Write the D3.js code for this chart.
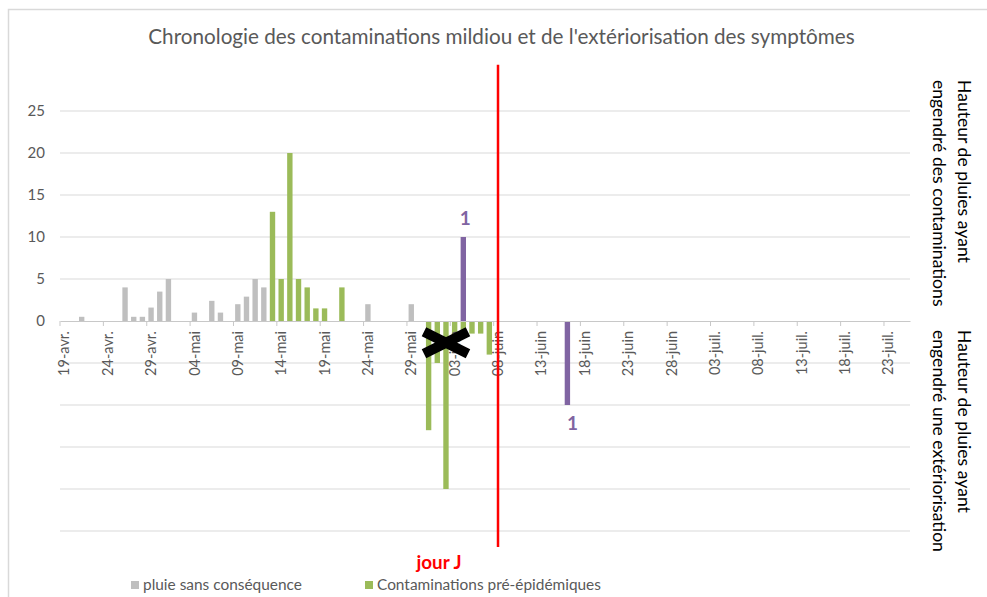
<!DOCTYPE html>
<html>
<head>
<meta charset="utf-8">
<script src="https://cdn.jsdelivr.net/npm/d3@7"></script>
<style>
  html, body { margin: 0; padding: 0; background: #fff; }
  svg { display: block; font-family: Lato, "Open Sans", sans-serif; }
</style>
</head>
<body>
<div id="chart"></div>
<script>
// categories : un jour par barre, du 19 avril au 25 juillet
const firstDay = "2021-04-19"
const lastDay = "2021-07-25"

const tickDates = ["2021-04-19", "2021-04-24", "2021-04-29", "2021-05-04", "2021-05-09",
  "2021-05-14", "2021-05-19", "2021-05-24", "2021-05-29", "2021-06-03", "2021-06-08",
  "2021-06-13", "2021-06-18", "2021-06-23", "2021-06-28", "2021-07-03", "2021-07-08",
  "2021-07-13", "2021-07-18", "2021-07-23"]
const tickLabels = ["19-avr.", "24-avr.", "29-avr.", "04-mai", "09-mai", "14-mai", "19-mai",
  "24-mai", "29-mai", "03-juin", "08-juin", "13-juin", "18-juin", "23-juin", "28-juin",
  "03-juil.", "08-juil.", "13-juil.", "18-juil.", "23-juil."]
const yTickValues = [0, 5, 10, 15, 20, 25]
const gridValues = [-25, -20, -15, -10, -5, 5, 10, 15, 20, 25]

// pluie sans conséquence (gris)
const pluieDates = ["2021-04-21", "2021-04-26", "2021-04-27", "2021-04-28", "2021-04-29",
  "2021-04-30", "2021-05-01", "2021-05-04", "2021-05-06", "2021-05-07", "2021-05-09",
  "2021-05-10", "2021-05-11", "2021-05-12", "2021-05-24", "2021-05-29"]
const pluieValues = [0.5, 4, 0.5, 0.5, 1.6, 3.5, 5, 1, 2.4, 1, 2, 2.9, 5, 4, 2, 2]

// contaminations pré-épidémiques (vert, au-dessus de 0)
const contamDates = ["2021-05-13", "2021-05-14", "2021-05-15", "2021-05-16", "2021-05-17",
  "2021-05-18", "2021-05-19", "2021-05-21"]
const contamValues = [13, 5, 20, 5, 4, 1.5, 1.5, 4]

// extériorisation des contaminations pré-épidémiques (vert, sous 0)
const exterDates = ["2021-05-31", "2021-06-01", "2021-06-02", "2021-06-03", "2021-06-04",
  "2021-06-05", "2021-06-06", "2021-06-07"]
const exterValues = [-13, -5, -20, -3, -1.5, -1.5, -1.5, -4]

// contamination 1 et son extériorisation (violet)
const epiDates = ["2021-06-04", "2021-06-16"]
const epiValues = [10, -10]
const epiLabels = ["1", "1"]

const jourJDate = "2021-06-08"
const redLineRange = [30.5, -26.9]
const crossDate = "2021-06-02"
const crossValue = -2.6

const width = 987, height = 597
const parse = d3.timeParse("%Y-%m-%d")
const fmt = d3.timeFormat("%Y-%m-%d")
const days = d3.timeDay.range(parse(firstDay), d3.timeDay.offset(parse(lastDay), 1)).map(fmt)

const svg = d3.select("#chart").append("svg")
  .attr("width", width)
  .attr("height", height)

// cadre du graphique
svg.append("rect")
  .attr("x", 8.5).attr("y", 9.5)
  .attr("width", width).attr("height", height)
  .attr("fill", "#fff")
  .attr("stroke", "#d9d9d9")
  .attr("stroke-width", 1.5)

const x = d3.scaleBand().domain(days).range([60, 910]).paddingInner(0.38).paddingOuter(0.19)
const step = x.step()
const xc = d => x(d) + x.bandwidth() / 2
const y = d3.scaleLinear().domain([-25, 25]).range([531, 111])

function fitFont(sel, target) {
  const len = sel.node().getComputedTextLength()
  const size = parseFloat(sel.attr("font-size"))
  sel.attr("font-size", (size * target / len).toFixed(2))
  return sel
}

// titre
const title = svg.append("text")
  .attr("x", 501.5).attr("y", 44)
  .attr("text-anchor", "middle")
  .attr("font-size", 18)
  .attr("fill", "#595959")
  .text("Chronologie des contaminations mildiou et de l'extériorisation des symptômes")
fitFont(title, 707)

// quadrillage
svg.append("g").selectAll("line")
  .data(gridValues)
  .enter().append("line")
  .attr("x1", 60).attr("x2", 910)
  .attr("y1", d => y(d)).attr("y2", d => y(d))
  .attr("stroke", "#d9d9d9")
  .attr("stroke-width", 1)

// axe Y (étiquettes seulement)
const yAxis = svg.append("g")
  .attr("transform", "translate(60,0)")
  .call(d3.axisLeft(y).tickValues(yTickValues).tickSize(0).tickPadding(15))
yAxis.select(".domain").remove()
yAxis.selectAll("text")
  .attr("font-family", "Lato, 'Open Sans', sans-serif")
  .attr("font-size", 15)
  .attr("fill", "#595959")

function bars(dates, values, color) {
  svg.append("g").selectAll("rect")
    .data(dates.map((d, i) => ({ date: d, value: values[i] })))
    .enter().append("rect")
    .attr("x", d => x(d.date))
    .attr("width", x.bandwidth())
    .attr("y", d => y(Math.max(0, d.value)))
    .attr("height", d => Math.abs(y(d.value) - y(0)))
    .attr("fill", color)
}

bars(pluieDates, pluieValues, "#bfbfbf")
bars(contamDates, contamValues, "#9bbb59")
bars(exterDates, exterValues, "#9bbb59")
bars(epiDates, epiValues, "#8064a2")

// axe X
const labelOf = {}
tickDates.forEach((d, i) => { labelOf[d] = tickLabels[i] })
const xAxis = svg.append("g")
  .attr("transform", `translate(0,${y(0)})`)
  .call(d3.axisBottom(x).tickValues(tickDates).tickFormat(d => labelOf[d]).tickSize(5).tickSizeOuter(0))
xAxis.select(".domain").attr("stroke", "#c8c8c8")
xAxis.selectAll(".tick line")
  .attr("stroke", "#c8c8c8")
  .attr("transform", `translate(${-step / 2},0)`)
xAxis.selectAll(".tick text")
  .attr("font-family", "Lato, 'Open Sans', sans-serif")
  .attr("font-size", 14.5)
  .attr("fill", "#595959")
  .attr("text-anchor", "end")
  .attr("transform", "rotate(-90)")
  .attr("x", -10).attr("y", 0)
  .attr("dy", "0.35em")

// étiquettes des barres violettes
const epiData = epiDates.map((d, i) => ({ date: d, value: epiValues[i], label: epiLabels[i] }))
svg.append("g").selectAll("rect")
  .data(epiData.filter(d => d.value < 0))
  .enter().append("rect")
  .attr("x", d => xc(d.date) - 14)
  .attr("y", d => y(d.value) + 2)
  .attr("width", 35).attr("height", 30)
  .attr("fill", "#fff")
svg.append("g").selectAll("text")
  .data(epiData)
  .enter().append("text")
  .attr("x", d => xc(d.date) + (d.value < 0 ? 5 : 2))
  .attr("y", d => d.value < 0 ? y(d.value) + 25 : y(d.value) - 12)
  .attr("text-anchor", "middle")
  .attr("font-size", 19)
  .attr("font-weight", "bold")
  .attr("fill", "#8064a2")
  .text(d => d.label)

// croix noire
const cx = xc(crossDate), cy = y(crossValue)
svg.append("path")
  .attr("d", `M${cx - 22},${cy - 11}L${cx + 22},${cy + 11}M${cx - 22},${cy + 11}L${cx + 22},${cy - 11}`)
  .attr("stroke", "#000")
  .attr("stroke-width", 10)
  .attr("fill", "none")

// jour J
const jx = xc(jourJDate)
svg.append("line")
  .attr("x1", jx).attr("x2", jx)
  .attr("y1", y(redLineRange[0])).attr("y2", y(redLineRange[1]))
  .attr("stroke", "#ff0000")
  .attr("stroke-width", 2.5)
const jourJ = svg.append("text")
  .attr("x", jx - 59).attr("y", 569)
  .attr("text-anchor", "middle")
  .attr("font-size", 16)
  .attr("font-weight", "bold")
  .attr("fill", "#ff0000")
  .text("jour J")
fitFont(jourJ, 45)

// titres de l'axe de droite
const rightTitles = [
  { top: 80, lines: ["Hauteur de pluies ayant", "engendré des contaminations"] },
  { top: 330, lines: ["Hauteur de pluies ayant", "engendré une extériorisation"] }
]
const rt = svg.append("g")
rightTitles.forEach(b => {
  b.lines.forEach((line, i) => {
    rt.append("text")
      .attr("class", "rtitle")
      .attr("transform", `translate(${958 - i * 25},${b.top}) rotate(90)`)
      .attr("font-size", 16)
      .attr("fill", "#000")
      .text(line)
  })
})
const ref = rt.selectAll(".rtitle").filter((d, i) => i === 3)
const rtLen = ref.node().getComputedTextLength()
rt.selectAll(".rtitle").attr("font-size", (16 * 222 / rtLen).toFixed(2))

// légende
const legendItems = [
  { label: "pluie sans conséquence", color: "#bfbfbf", x: 131 },
  { label: "Contaminations pré-épidémiques", color: "#9bbb59", x: 365 }
]
const lg = svg.append("g")
legendItems.forEach(it => {
  lg.append("rect")
    .attr("x", it.x).attr("y", 581)
    .attr("width", 8).attr("height", 8)
    .attr("fill", it.color)
  lg.append("text")
    .attr("class", "ltext")
    .attr("x", it.x + 12).attr("y", 590)
    .attr("font-size", 14)
    .attr("fill", "#595959")
    .text(it.label)
})
const lref = lg.selectAll(".ltext").filter((d, i) => i === 1)
const lLen = lref.node().getComputedTextLength()
lg.selectAll(".ltext").attr("font-size", (14 * 224 / lLen).toFixed(2))
</script>
</body>
</html>
